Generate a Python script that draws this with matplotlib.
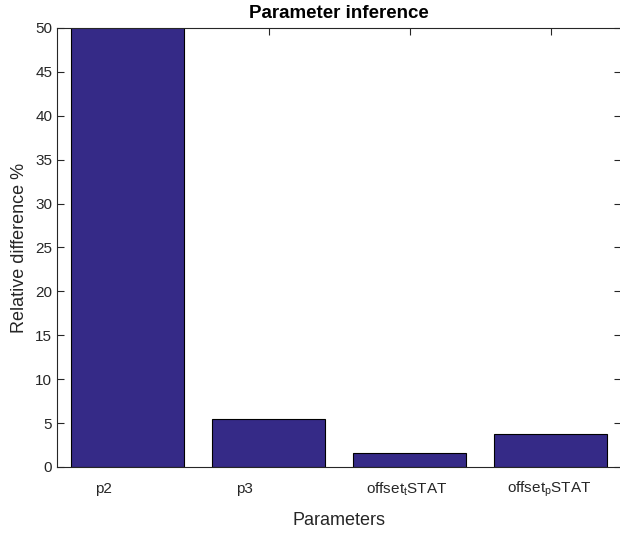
import matplotlib
matplotlib.use("Agg")
import matplotlib.pyplot as plt
from matplotlib.transforms import ScaledTranslation, blended_transform_factory

plt.rcParams['font.family'] = ['Liberation Sans', 'DejaVu Sans']
plt.rcParams['mathtext.fontset'] = 'custom'
plt.rcParams['mathtext.rm'] = 'Liberation Sans'
plt.rcParams['mathtext.it'] = 'Liberation Sans'

# Relative differences per inferred parameter (%)
params = ['p2', 'p3', r'offset$_{\mathrm{t}}$STAT', r'offset$_{\mathrm{p}}$STAT']
rel_diff = [58.0, 5.5, 1.62, 3.78]
yticks = [0, 5, 10, 15, 20, 25, 30, 35, 40, 45, 50]

axcol = '#262626'
barcol = '#352a87'

fig = plt.figure(figsize=(6.2, 5.33), dpi=100)
ax = fig.add_axes([57 / 620, 66 / 533, 564 / 620, 439 / 533])

x = list(range(1, len(params) + 1))
ax.bar(x, rel_diff, width=0.8, color=barcol, edgecolor='black', linewidth=0.8, zorder=2)

ax.set_xlim(0.5, 4.5)
ax.set_ylim(0, 50)
ax.set_yticks(yticks)
ax.set_xticks(x)
ax.set_xticklabels([])

ax.tick_params(axis='both', direction='in', length=5, width=0.8, color=axcol,
               labelcolor=axcol, labelsize=11, top=True, right=True)
for s in ax.spines.values():
    s.set_color(axcol)
    s.set_linewidth(0.8)
    s.set_zorder(3)

# category labels under the bars (short names sit left of the bar centre)
shifts_pt = [-17, -17, -2, -1]
base = blended_transform_factory(ax.transData, ax.transAxes)
for xi, name, dx in zip(x, params, shifts_pt):
    tr = base + ScaledTranslation(dx / 72, -15.8 / 72, fig.dpi_scale_trans)
    ax.text(xi, 0, name, transform=tr, ha='center', va='center',
            fontsize=11, color=axcol)

ax.set_title('Parameter inference', fontsize=13.5, fontweight='bold', color='black', pad=7)
ax.set_xlabel('Parameters', fontsize=13, color=axcol, labelpad=29)
ax.set_ylabel('Relative difference %', fontsize=13, color=axcol, labelpad=5)

fig.savefig('out.png', dpi=100)
